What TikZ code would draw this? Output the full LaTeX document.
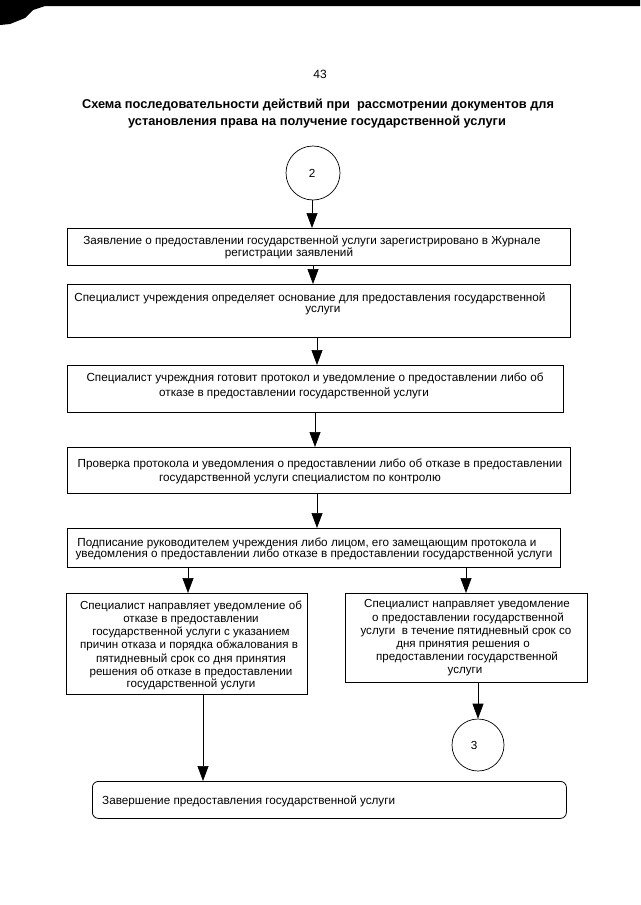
\documentclass[tikz,border=0pt]{standalone}
\usepackage{fontspec}
\setmainfont{Liberation Sans}
\usetikzlibrary{arrows.meta}
\begin{document}
\begin{tikzpicture}[x=1pt,y=-1pt,
  box/.style={draw, line width=0.8pt, rectangle, inner sep=0pt, anchor=north west},
  tl/.style={font=\fontsize{11.7}{14}\selectfont, inner sep=0pt, anchor=base},
  sl/.style={font=\fontsize{11.6}{14}\selectfont, inner sep=0pt, anchor=base},
  arr/.style={line width=0.7pt, -{Triangle[length=15pt,width=11pt]}},
  conn/.style={draw, circle, line width=0.7pt, inner sep=0pt}]
\useasboundingbox (0,0) rectangle (640,905);
\fill (0,0) -- (640,0) -- (640,6) -- (45,6) -- (33,10) -- (25,18) -- (10,24) -- (0,25) -- cycle;

\node[tl, font=\fontsize{12}{14}\selectfont] (page) at (320,78) {43};
\node[tl, font=\bfseries\fontsize{12.8}{15}\selectfont] (t1) at (318,108) {Схема последовательности действий при\ \ рассмотрении документов для};
\node[tl, font=\bfseries\fontsize{12.8}{15}\selectfont] (t2) at (317,125) {установления права на получение государственной услуги};

% circle 2
\node[conn, minimum size=54pt] (c2) at (313,173) {};
\node[tl] (c2t) at (312,177) {2};

% box 1
\node[box, minimum width=503pt, minimum height=37pt] (b1) at (67,228) {};
\node[tl] (b1a) at (312,244) {Заявление о предоставлении государственной услуги зарегистрировано в Журнале};
\node[tl] (b1b) at (289,256) {регистрации заявлений};

% box 2
\node[box, minimum width=503pt, minimum height=53pt] (b2) at (67,284) {};
\node[tl] (b2a) at (310,301) {Специалист учреждения определяет основание для предоставления государственной};
\node[tl] (b2b) at (323,312) {услуги};

% box 3
\node[box, minimum width=496pt, minimum height=47pt] (b3) at (67,365) {};
\node[tl] (b3a) at (315,381) {Специалист учреждния готовит протокол и уведомление о предоставлении либо об};
\node[tl] (b3b) at (294,396) {отказе в предоставлении государственной услуги};

% box 4
\node[box, minimum width=503pt, minimum height=46pt] (b4) at (67,447) {};
\node[tl] (b4a) at (320,467) {Проверка протокола и уведомления о предоставлении либо об отказе в предоставлении};
\node[tl] (b4b) at (300,481) {государственной услуги специалистом по контролю};

% box 5
\node[box, minimum width=493pt, minimum height=39pt] (b5) at (67,528) {};
\node[tl] (b5a) at (307,546) {Подписание руководителем учреждения либо лицом, его замещающим протокола и};
\node[tl] (b5b) at (314,557) {уведомления о предоставлении либо отказе в предоставлении государственной услуги};

% left box
\node[box, minimum width=241pt, minimum height=101pt] (lb) at (66,593) {};
\node[sl] (lb1) at (191,609) {Специалист направляет уведомление об};
\node[sl] (lb2) at (191,622) {отказе в предоставлении};
\node[sl] (lb3) at (191,635) {государственной услуги с указанием};
\node[sl] (lb4) at (189,648) {причин отказа и порядка обжалования в};
\node[sl] (lb5) at (191,662) {пятидневный срок со дня принятия};
\node[sl] (lb6) at (191,675) {решения об отказе в предоставлении};
\node[sl] (lb7) at (191,687) {государственной услуги};

% right box
\node[box, minimum width=242pt, minimum height=89pt] (rb) at (345,593) {};
\node[sl] (rb1) at (467,607) {Специалист направляет уведомление};
\node[sl] (rb2) at (468,621) {о предоставлении государственной};
\node[sl] (rb3) at (466,634) {услуги\ \ в течение пятидневный срок со};
\node[sl] (rb4) at (463,647) {дня принятия решения о};
\node[sl] (rb5) at (467,660) {предоставлении государственной};
\node[sl] (rb6) at (465,673) {услуги};

% circle 3
\node[conn, minimum size=52pt] (c3) at (478,745) {};
\node[tl] (c3t) at (474,749) {3};

% final box
\node[box, rounded corners=6pt, minimum width=474pt, minimum height=37pt] (fb) at (92,781) {};
\node[tl, anchor=base west] (fbt) at (102,804) {Завершение предоставления государственной услуги};

% x positions of connectors
\coordinate (x0) at (312,0);
\coordinate (x1) at (313,0);
\coordinate (x2) at (317,0);
\coordinate (x3) at (315,0);
\coordinate (x4) at (317,0);
\coordinate (x5) at (188,0);
\coordinate (x6) at (466,0);
\coordinate (x7) at (203,0);

\draw[arr] (c2.south -| x0) -- (b1.north -| x0);
\draw[arr] (b1.south -| x1) -- (b2.north -| x1);
\draw[arr] (b2.south -| x2) -- (b3.north -| x2);
\draw[arr] (b3.south -| x3) -- (b4.north -| x3);
\draw[arr] (b4.south -| x4) -- (b5.north -| x4);
\draw[arr] (b5.south -| x5) -- (lb.north -| x5);
\draw[arr] (b5.south -| x6) -- (rb.north -| x6);
\draw[arr] (lb.south -| x7) -- (fb.north -| x7);
\draw[arr] (rb.south -| c3) -- (c3.north);
\end{tikzpicture}
\end{document}
